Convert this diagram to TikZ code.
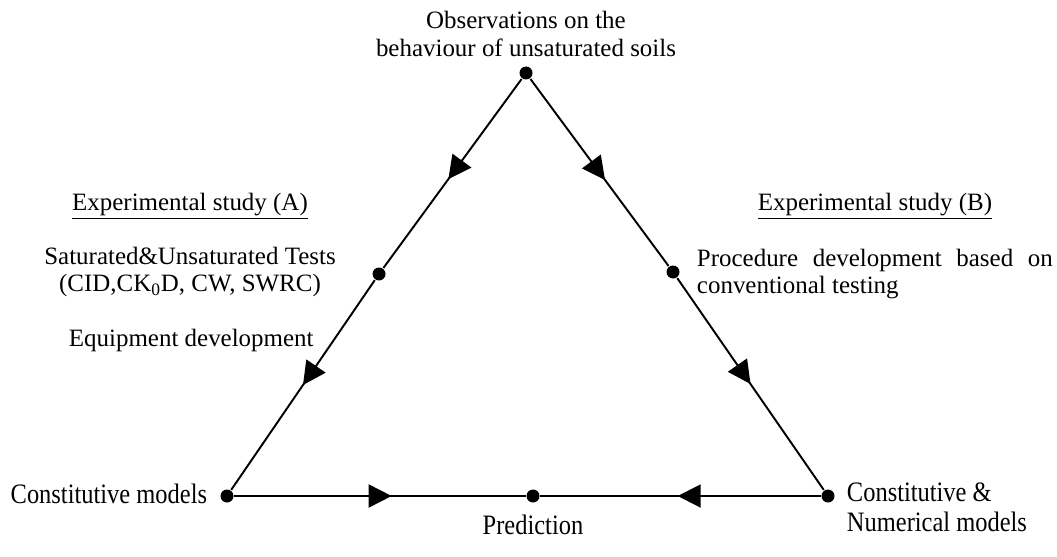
\documentclass[tikz,border=0pt]{standalone}
\usepackage{fontspec}
\setmainfont{Liberation Serif}
\usetikzlibrary{arrows.meta,decorations.markings}
\tikzset{
  dot/.style={circle, fill=black, inner sep=0pt, minimum size=0.26cm},
  midarrow/.style={decoration={markings, mark=at position #1 with {\arrow{Triangle[length=0.46cm, width=0.46cm]}}}, postaction={decorate}},
  label/.style={inner sep=0pt, font=\fontsize{14.2}{15.6}\selectfont},
  squeezed/.style={inner sep=0pt, font=\fontsize{16}{17}\selectfont}
}
\newcommand{\narrow}[1]{\scalebox{0.87}[1]{#1}}
\begin{document}
\begin{tikzpicture}[x=0.02cm, y=-0.02cm, line width=1.1pt]
        \useasboundingbox (0,0) rectangle (1057,557);
        \node[dot] (top) at (526,73) {};
        \node[dot] (lmid) at (379,274) {};
        \node[dot] (rmid) at (673,272) {};
        \node[dot] (bl) at (227,496) {};
        \node[dot] (br) at (828,496) {};
        \node[dot] (bmid) at (533,496) {};
        \draw[midarrow=0.53] (top) -- (lmid);
        \draw[midarrow=0.50] (lmid) -- (bl);
        \draw[midarrow=0.54] (top) -- (rmid);
        \draw[midarrow=0.50] (rmid) -- (br);
        \draw[midarrow=0.54] (bl) -- (bmid);
        \draw[midarrow=0.51] (br) -- (bmid);
        % labels
        \node[label, align=center] (obs) at (526,34) {Observations on the\\behaviour of unsaturated soils};
        \node[label] (expa) at (190,206) {\underline{Experimental study (A)}};
        \node[label, align=center] (tests) at (190,272) {Saturated\&Unsaturated Tests\\(CID,CK\textsubscript{0}D, CW, SWRC)};
        \node[label, anchor=west] (equip) at (68,340) {Equipment development};
        \node[label] (expb) at (875,206) {\underline{Experimental study (B)}};
        \node[label, anchor=north west, text width=7.12cm, align=justify] (proc) at (696,248) {Procedure development based on\linebreak conventional testing};
        \node[squeezed, anchor=east] (cmod) at (208,494) {\narrow{Constitutive models}};
        \node[squeezed] (pred) at (533,525) {\narrow{Prediction}};
        \node[squeezed, anchor=north west, align=left] (cnum) at (846,482) {\narrow{Constitutive \&}\\\narrow{Numerical models}};
    \end{tikzpicture}
\end{document}
